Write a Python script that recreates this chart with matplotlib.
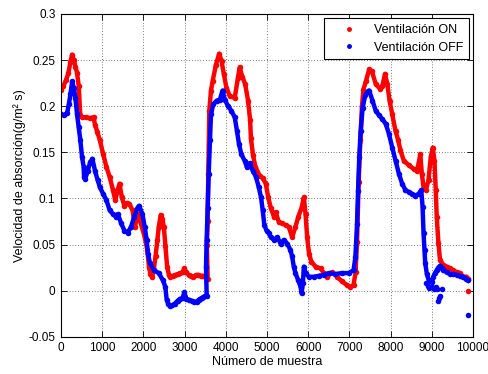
import matplotlib
matplotlib.use("Agg")
import matplotlib.pyplot as plt

plt.rcParams['font.family'] = ['Liberation Sans', 'DejaVu Sans']

# Ventilación ON: sample index and absorption rate
on_x = [0, 60, 120, 180, 230, 270, 310, 350, 390, 430, 468, 520, 600, 700, 790,
        825, 880, 944, 1024, 1103, 1183, 1262, 1317, 1370, 1420, 1476, 1540, 1600,
        1659, 1738, 1794, 1857, 1937, 2032, 2095, 2135, 2170, 2210, 2250, 2294,
        2340, 2373, 2420, 2460, 2496, 2536, 2576, 2620, 2656, 2720, 2776, 2840,
        2896, 2950, 2992, 3040, 3096, 3160, 3216, 3280, 3336, 3400, 3456, 3510,
        3560, 3540, 3560, 3575, 3600, 3640, 3680, 3760, 3840, 3896, 3952, 4016,
        4096, 4216, 4296, 4336, 4400, 4470, 4540, 4590, 4610, 4660, 4720, 4830,
        4900, 4970, 5030, 5090, 5170, 5210, 5290, 5370, 5450, 5530, 5610, 5690,
        5760, 5840, 5895, 5935, 5975, 6020, 6080, 6180, 6300, 6380, 6460, 6580,
        6700, 6820, 6940, 7020, 7100, 7150, 7185, 7225, 7265, 7305, 7340, 7400,
        7480, 7545, 7640, 7740, 7800, 7865, 7920, 7975, 8040, 8120, 8185, 8240,
        8320, 8440, 8560, 8640, 8690, 8720, 8760, 8800, 8856, 8920, 8976, 9024,
        9064, 9096, 9120, 9160, 9200, 9280, 9360, 9440, 9520, 9600, 9680, 9765,
        9840, 9886]
on_y = [0.218, 0.222, 0.228, 0.236, 0.248, 0.256, 0.250, 0.243, 0.236, 0.222,
        0.190, 0.188, 0.188, 0.187, 0.188, 0.180, 0.172, 0.163, 0.148, 0.134,
        0.123, 0.109, 0.098, 0.108, 0.116, 0.101, 0.092, 0.095, 0.094, 0.087,
        0.069, 0.083, 0.073, 0.058, 0.044, 0.026, 0.018, 0.015, 0.022, 0.037,
        0.055, 0.069, 0.082, 0.078, 0.069, 0.048, 0.026, 0.017, 0.015, 0.016,
        0.017, 0.018, 0.019, 0.020, 0.024, 0.020, 0.017, 0.016, 0.015, 0.017,
        0.017, 0.016, 0.016, 0.014, 0.013, 0.050, 0.076, 0.126, 0.195, 0.217,
        0.227, 0.245, 0.257, 0.249, 0.235, 0.220, 0.211, 0.209, 0.231, 0.242,
        0.232, 0.224, 0.206, 0.185, 0.165, 0.147, 0.134, 0.124, 0.122, 0.116,
        0.101, 0.090, 0.080, 0.085, 0.074, 0.073, 0.071, 0.069, 0.058, 0.069,
        0.080, 0.090, 0.101, 0.083, 0.058, 0.040, 0.031, 0.026, 0.024, 0.019,
        0.015, 0.020, 0.015, 0.010, 0.006, 0.004, 0.006, 0.020, 0.053, 0.118,
        0.163, 0.200, 0.218, 0.227, 0.240, 0.238, 0.224, 0.219, 0.222, 0.235,
        0.224, 0.206, 0.191, 0.173, 0.163, 0.152, 0.141, 0.136, 0.132, 0.130,
        0.140, 0.148, 0.126, 0.112, 0.109, 0.120, 0.145, 0.155, 0.141, 0.109,
        0.080, 0.052, 0.033, 0.028, 0.026, 0.024, 0.022, 0.020, 0.019, 0.015,
        0.015, 0.013]
on_extra_x = [9886]
on_extra_y = [0.000]

# Ventilación OFF: sample index and absorption rate
off_x = [0, 71, 150, 190, 230, 270, 310, 350, 390, 430, 470, 510, 550, 560, 587,
         650, 706, 762, 825, 889, 944, 1024, 1103, 1183, 1262, 1341, 1380, 1460,
         1540, 1619, 1698, 1778, 1857, 1897, 1976, 2032, 2079, 2111, 2159, 2254,
         2373, 2476, 2532, 2565, 2600, 2646, 2700, 2767, 2830, 2888, 2950, 2993,
         3045, 3110, 3172, 3230, 3293, 3340, 3374, 3420, 3455, 3500, 3536, 3520,
         3536, 3560, 3584, 3616, 3640, 3696, 3776, 3856, 3920, 3976, 4056, 4136,
         4216, 4272, 4320, 4376, 4456, 4512, 4576, 4656, 4736, 4800, 4856, 4896,
         4936, 4990, 5050, 5090, 5170, 5250, 5330, 5410, 5490, 5570, 5610, 5650,
         5690, 5760, 5815, 5840, 5870, 5895, 5935, 6015, 6135, 6260, 6380, 6500,
         6660, 6820, 6980, 7100, 7145, 7185, 7210, 7240, 7275, 7320, 7385, 7450,
         7480, 7560, 7640, 7720, 7800, 7880, 7960, 8040, 8120, 8200, 8280, 8360,
         8440, 8520, 8600, 8680, 8744, 8776, 8800, 8824, 8840, 8880, 8920, 8960,
         9000, 9040, 9080, 9118, 9160, 9199, 9240, 9280, 9360, 9442, 9520, 9604,
         9680, 9765, 9830, 9886]
off_y = [0.191, 0.190, 0.193, 0.202, 0.213, 0.227, 0.220, 0.209, 0.191, 0.177,
         0.163, 0.145, 0.134, 0.123, 0.121, 0.130, 0.139, 0.143, 0.130, 0.120,
         0.112, 0.105, 0.098, 0.087, 0.083, 0.080, 0.083, 0.073, 0.065, 0.063,
         0.069, 0.080, 0.090, 0.092, 0.083, 0.069, 0.055, 0.040, 0.030, 0.022,
         0.019, 0.011, 0.004, -0.010, -0.014, -0.017, -0.016, -0.014, -0.011,
         -0.009, -0.008, -0.002, -0.009, -0.010, -0.011, -0.012, -0.012, -0.010,
         -0.009, -0.008, -0.007, -0.006, -0.006, 0.026, 0.055, 0.090, 0.126,
         0.163, 0.191, 0.202, 0.206, 0.207, 0.217, 0.207, 0.200, 0.195, 0.188,
         0.173, 0.159, 0.148, 0.141, 0.134, 0.138, 0.130, 0.123, 0.112, 0.101,
         0.087, 0.071, 0.065, 0.062, 0.058, 0.055, 0.058, 0.051, 0.055, 0.051,
         0.044, 0.037, 0.026, 0.019, 0.011, 0.004, -0.003, 0.008, 0.026, 0.019,
         0.015, 0.015, 0.016, 0.017, 0.019, 0.018, 0.019, 0.019, 0.022, 0.036,
         0.072, 0.108, 0.145, 0.173, 0.198, 0.212, 0.216, 0.217, 0.206, 0.195,
         0.190, 0.186, 0.181, 0.170, 0.155, 0.141, 0.127, 0.116, 0.109, 0.107,
         0.105, 0.103, 0.105, 0.109, 0.091, 0.062, 0.044, 0.030, 0.018, 0.012,
         0.010, 0.009, 0.015, 0.019, 0.022, 0.025, 0.027, 0.025, 0.022, 0.020,
         0.018, 0.018, 0.017, 0.016, 0.015, 0.013, 0.011]
off_extra_x = [8860, 8900, 8940, 9000, 9050, 9100, 9120, 9150, 9180, 9210, 9240, 9886]
off_extra_y = [0.008, 0.005, 0.003, 0.004, 0.002, 0.004, 0.002, -0.011, -0.008,
               -0.006, 0.002, -0.027]

xticks = list(range(0, 10001, 1000))
yticks = [-0.05, 0.0, 0.05, 0.1, 0.15, 0.2, 0.25, 0.3]
ytick_labels = ['-0.05', '0', '0.05', '0.1', '0.15', '0.2', '0.25', '0.3']

fig = plt.figure(figsize=(4.89, 3.74), dpi=100)
ax = fig.add_axes([61 / 489, 37.3 / 374, 412 / 489, 322.7 / 374])

style = dict(linestyle='-', linewidth=3.2, marker='o', markersize=4.0,
             markeredgewidth=0)
dots = dict(linestyle='none', marker='o', markersize=4.0, markeredgewidth=0)
ax.plot(on_x, on_y, color='#ff0000', **style)
ax.plot(on_extra_x, on_extra_y, color='#ff0000', **dots)
ax.plot(off_x, off_y, color='#0000ff', **style)
ax.plot(off_extra_x, off_extra_y, color='#0000ff', **dots)

# legend handles: small dot markers only
h_on, = ax.plot([], [], color='#ff0000', linestyle='none', marker='.', markersize=5)
h_off, = ax.plot([], [], color='#0000ff', linestyle='none', marker='.', markersize=5)
leg = ax.legend([h_on, h_off], ['Ventilación ON', 'Ventilación OFF'],
                loc='upper right', fontsize=9, frameon=True, fancybox=False,
                edgecolor='black', framealpha=1, handlelength=3.0,
                handletextpad=0.5, borderpad=0.45, labelspacing=0.45,
                borderaxespad=0.35)
leg.get_frame().set_linewidth(0.8)

ax.set_xlim(0, 10000)
ax.set_ylim(-0.05, 0.3)
ax.set_xticks(xticks)
ax.set_xticklabels([str(t) for t in xticks])
ax.set_yticks(yticks)
ax.set_yticklabels(ytick_labels)
ax.tick_params(direction='in', top=True, right=True, length=4, width=0.6,
               labelsize=8.5, pad=4)
ax.grid(True, color='black', linestyle=(0, (1, 3)), linewidth=0.5)
ax.set_axisbelow(True)
for s in ax.spines.values():
    s.set_linewidth(0.8)

ax.set_xlabel('Número de muestra', fontsize=9, labelpad=1)
ax.set_ylabel('Velocidad de absorción(g/m² s)', fontsize=9, labelpad=2)

fig.savefig('out.png', dpi=100, facecolor='white')
